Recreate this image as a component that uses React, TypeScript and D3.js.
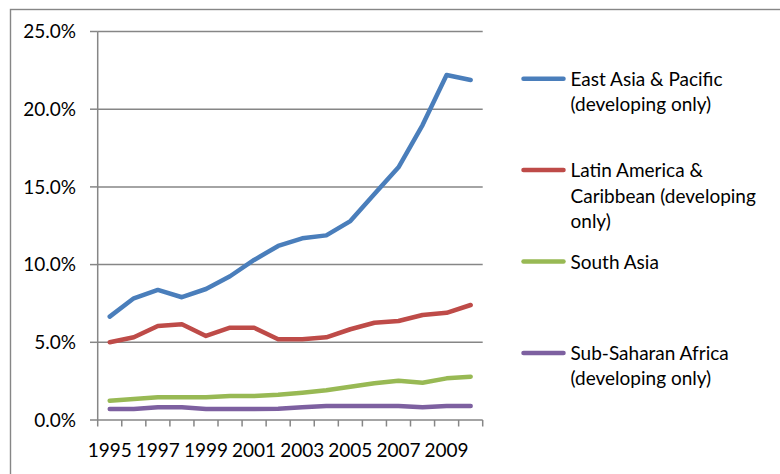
import React from "react";
import * as d3 from "d3";

const years = [1995, 1996, 1997, 1998, 1999, 2000, 2001, 2002, 2003, 2004, 2005, 2006, 2007, 2008, 2009, 2010];

const eastAsia = [6.65, 7.83, 8.37, 7.9, 8.43, 9.25, 10.3, 11.2, 11.69, 11.88, 12.8, 14.55, 16.26, 18.98, 22.2, 21.88];
const latinAmerica = [5.0, 5.32, 6.05, 6.16, 5.41, 5.94, 5.94, 5.19, 5.19, 5.32, 5.84, 6.26, 6.37, 6.76, 6.9, 7.4];
const southAsia = [1.24, 1.35, 1.46, 1.46, 1.46, 1.54, 1.54, 1.63, 1.76, 1.91, 2.14, 2.36, 2.53, 2.4, 2.68, 2.79];
const subSaharan = [0.71, 0.71, 0.82, 0.82, 0.71, 0.71, 0.71, 0.73, 0.82, 0.9, 0.9, 0.9, 0.9, 0.82, 0.9, 0.9];

const yTicks = [0, 5, 10, 15, 20, 25];
const xLabelYears = [1995, 1997, 1999, 2001, 2003, 2005, 2007, 2009];

const series = [
  { lines: ["East Asia & Pacific", "(developing only)"], values: eastAsia, color: "#4A7EBB" },
  { lines: ["Latin America &", "Caribbean (developing", "only)"], values: latinAmerica, color: "#BE4B48" },
  { lines: ["South Asia"], values: southAsia, color: "#98B954" },
  { lines: ["Sub-Saharan Africa", "(developing only)"], values: subSaharan, color: "#7D60A0" },
];

const W = 780;
const H = 474;
const plot = { left: 97.7, right: 482.7, top: 31.5, bottom: 420 };
const font = "Lato, 'Open Sans', sans-serif";
const axisColor = "#868686";

export default function App() {
  const x = d3
    .scaleBand<number>()
    .domain(years)
    .range([plot.left, plot.right])
    .paddingInner(0)
    .paddingOuter(0);
  const cx = (yr: number) => (x(yr) as number) + x.bandwidth() / 2;
  const y = d3.scaleLinear().domain([0, 25]).range([plot.bottom, plot.top]);

  const line = d3
    .line<number>()
    .x((_, i) => cx(years[i]))
    .y((v) => y(v))
    .curve(d3.curveLinear);

  const tickXs = years.map((yr) => x(yr) as number).concat([plot.right]);

  const legendX1 = 523.5;
  const legendX2 = 563.5;
  const legendTextX = 570.5;
  const legendY0 = 78.7;
  const legendStep = 91.4;
  const lineGap = 25.5;

  return (
    <svg
      width={W}
      height={H}
      style={{ position: "absolute", left: 0, top: 0, background: "#fff" }}
      fontFamily={font}
    >
      <rect x={0} y={0} width={W} height={H} fill="#fff" />
      <rect x={10.5} y={9.5} width={800} height={500} fill="none" stroke={axisColor} strokeWidth={1.4} />

      {/* horizontal gridlines and y tick marks */}
      {yTicks.map((t) => (
        <g key={t}>
          <line x1={plot.left} x2={plot.right} y1={y(t)} y2={y(t)} stroke={axisColor} strokeWidth={1.5} />
          <line x1={90} x2={plot.left} y1={y(t)} y2={y(t)} stroke={axisColor} strokeWidth={1.5} />
          <text x={76} y={y(t)} dy="0.36em" textAnchor="end" fontSize={19} fill="#000">
            {d3.format(".1f")(t) + "%"}
          </text>
        </g>
      ))}

      {/* y axis */}
      <line x1={plot.left} x2={plot.left} y1={plot.top} y2={plot.bottom} stroke={axisColor} strokeWidth={1.5} />

      {/* x tick marks */}
      {tickXs.map((tx, i) => (
        <line key={i} x1={tx} x2={tx} y1={plot.bottom} y2={plot.bottom + 6.5} stroke={axisColor} strokeWidth={1.5} />
      ))}
      {xLabelYears.map((yr) => (
        <text key={yr} x={cx(yr)} y={456.5} textAnchor="middle" fontSize={19} fill="#000">
          {yr}
        </text>
      ))}

      {/* series lines */}
      {series.map((s) => (
        <path
          key={s.color}
          d={line(s.values) as string}
          fill="none"
          stroke={s.color}
          strokeWidth={4.5}
          strokeLinejoin="round"
          strokeLinecap="round"
        />
      ))}

      {/* legend */}
      {series.map((s, i) => {
        const ly = legendY0 + i * legendStep;
        return (
          <g key={"lg" + i}>
            <line x1={legendX1} x2={legendX2} y1={ly} y2={ly} stroke={s.color} strokeWidth={4.5} strokeLinecap="round" />
            {s.lines.map((t, j) => (
              <text key={j} x={legendTextX} y={ly + 7 + j * lineGap} fontSize={19} fill="#000">
                {t}
              </text>
            ))}
          </g>
        );
      })}
    </svg>
  );
}
